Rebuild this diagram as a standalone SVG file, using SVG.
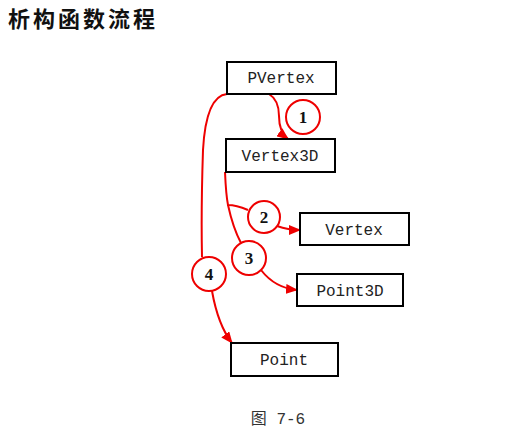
<svg xmlns="http://www.w3.org/2000/svg" width="516" height="438" viewBox="0 0 516 438">
<style>
.box{fill:#fff;stroke:#000;stroke-width:2}
.lbl{font-family:"Liberation Mono","Noto Sans CJK SC",monospace;font-size:16px;text-anchor:middle;fill:#222}
.c{fill:#fff;stroke:#e00;stroke-width:2}
.n{font-family:"Liberation Serif",serif;font-weight:bold;font-size:17px;text-anchor:middle;fill:#111}
.e{fill:none;stroke:#e00;stroke-width:2}
</style>
<defs>
<marker id="ah" markerUnits="userSpaceOnUse" markerWidth="12" markerHeight="10" refX="11" refY="5" orient="auto">
<path d="M0,0 L12,5 L0,10 Z" fill="#e00"/>
</marker>
</defs>
<rect width="516" height="438" fill="#fff"/>
<text x="8" y="27" font-family="'Noto Sans CJK SC',sans-serif" font-weight="bold" font-size="22" letter-spacing="3" fill="#111">析构函数流程</text>
<g id="connectors">
<path class="e" d="M269,94 Q279,100 279,116 Q279,132 288,139" marker-end="url(#ah)"/>
<path class="e" d="M225,172 Q226,195 228,205 Q236,205 248,210"/>
<path class="e" d="M277,226 Q288,230 300,230" marker-end="url(#ah)"/>
<path class="e" d="M228,205 Q233,228 241,243"/>
<path class="e" d="M261,270 Q275,288 297,290" marker-end="url(#ah)"/>
<path class="e" d="M227,94 Q206,96 203,150 Q201,210 202,257"/>
<path class="e" d="M212,291 Q218,325 232,343" marker-end="url(#ah)"/>
</g>
<g id="PVertex"><rect class="box" x="227" y="62" width="109" height="32"/><text class="lbl" x="281" y="83">PVertex</text></g>
<g id="Vertex3D"><rect class="box" x="226" y="139" width="109" height="33"/><text class="lbl" x="280" y="161">Vertex3D</text></g>
<g id="Vertex"><rect class="box" x="300" y="213" width="109" height="32"/><text class="lbl" x="354" y="235">Vertex</text></g>
<g id="Point3D"><rect class="box" x="297" y="274" width="106" height="32"/><text class="lbl" x="350" y="296">Point3D</text></g>
<g id="Point"><rect class="box" x="231" y="343" width="107" height="33"/><text class="lbl" x="284" y="365">Point</text></g>
<g id="c1"><circle class="c" cx="303" cy="117" r="17"/><text class="n" x="303" y="123">1</text></g>
<g id="c2"><circle class="c" cx="264" cy="217" r="16"/><text class="n" x="264" y="223">2</text></g>
<g id="c3"><circle class="c" cx="249" cy="258" r="17"/><text class="n" x="249" y="264">3</text></g>
<g id="c4"><circle class="c" cx="209" cy="274" r="17"/><text class="n" x="209" y="280">4</text></g>
<text x="278" y="424" font-family="'Liberation Mono','Noto Sans CJK SC',monospace" font-size="16" text-anchor="middle" fill="#333">图 7-6</text>
</svg>
